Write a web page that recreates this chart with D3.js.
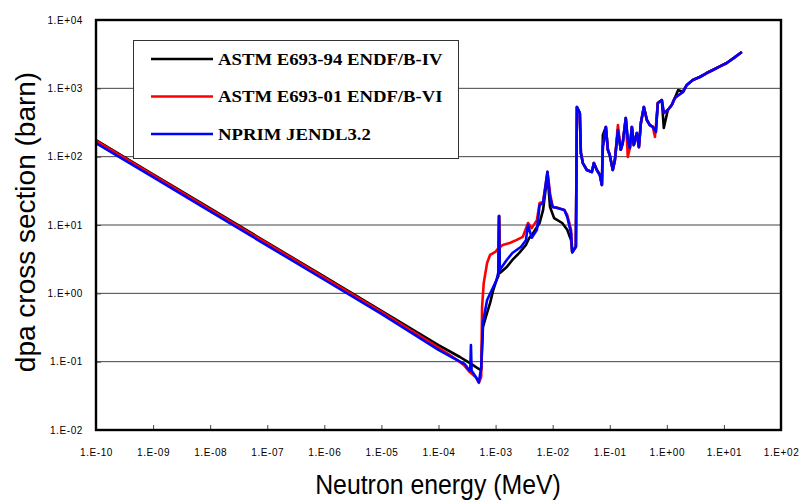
<!DOCTYPE html>
<html>
<head>
<meta charset="utf-8">
<script src="https://cdn.jsdelivr.net/npm/d3@7"></script>
<style>
  html, body { margin: 0; padding: 0; background: #fff; }
  svg { display: block; }
</style>
</head>
<body>
<svg id="chart" width="801" height="501"></svg>
<script>
// Decade ticks on both axes (exponents)
const xTickExponents = [-10, -9, -8, -7, -6, -5, -4, -3, -2, -1, 0, 1, 2];
const yTickExponents = [-2, -1, 0, 1, 2, 3, 4];

// Series names and colours
const seriesNames = ["ASTM E693-94 ENDF/B-IV", "ASTM E693-01 ENDF/B-VI", "NPRIM JENDL3.2"];
const seriesColors = ["#000000", "#ff0000", "#0000ff"];

// ASTM E693-94 (ENDF/B-IV): neutron energy (MeV) and dpa cross section (barn)
const energyAstm94 = [1e-10, 1e-9, 1e-8, 1e-7, 1e-6, 1e-5, 1e-4, 2.37e-4, 3.5e-4, 5.1e-4, 5.6e-4,
  6.0e-4, 7.1e-4, 8.0e-4, 9.1e-4, 1.04e-3, 1.12e-3, 1.15e-3, 1.19e-3, 1.57e-3, 1.97e-3, 2.6e-3,
  3.4e-3, 3.9e-3, 4.3e-3, 5.9e-3, 6.8e-3, 8.1e-3, 9.0e-3, 1.06e-2, 1.47e-2, 1.8e-2, 2.1e-2, 2.2e-2,
  2.55e-2, 2.66e-2, 2.99e-2, 3.12e-2, 3.38e-2, 3.97e-2, 4.86e-2, 5.27e-2, 5.94e-2, 6.71e-2, 7.28e-2,
  7.57e-2, 8.55e-2, 9.27e-2, 0.1, 0.113, 0.123, 0.139, 0.156, 0.169, 0.191, 0.207, 0.225, 0.244,
  0.264, 0.298, 0.324, 0.351, 0.396, 0.447, 0.504, 0.569, 0.642, 0.695, 0.817, 0.885, 1.04, 1.22,
  1.38, 1.58, 1.91, 2.24, 2.85, 3.78, 5.0, 6.4, 8.5, 11.2, 15, 20.6];
const sigmaAstm94 = [175, 55.3, 17.5, 5.53, 1.75, 0.553, 0.175, 0.117, 0.096, 0.078, 0.076,
  0.32, 0.52, 0.72, 1.12, 1.57, 1.8, 13.5, 1.98, 2.43, 3.08, 3.9,
  5.1, 6.5, 7.1, 10.7, 16.6, 54, 18.3, 12.6, 10.7, 8.5, 6.0, 4.0,
  4.8, 533, 435, 113, 80.7, 63.8, 59.7, 80.7, 63.8, 54, 38.5,
  207, 272, 126, 106, 63.8, 89, 245, 126, 159, 368, 175, 134, 272,
  148, 222, 138, 311, 533, 344, 290, 272, 230, 610, 674, 263, 482, 570,
  721, 945, 884, 1120, 1325, 1465, 1675, 1855, 2090, 2350, 2790, 3400];

// ASTM E693-01 (ENDF/B-VI)
const energyAstm01 = [1e-10, 1e-9, 1e-8, 1e-7, 1e-6, 1e-5, 1e-4, 1.79e-4, 2.8e-4, 3.5e-4, 4.6e-4,
  5.1e-4, 5.6e-4, 5.8e-4, 6.2e-4, 7.1e-4, 8.0e-4, 9.9e-4, 1.12e-3, 1.15e-3, 1.18e-3, 1.33e-3,
  1.77e-3, 2.3e-3, 3.0e-3, 3.7e-3, 4.3e-3, 5.3e-3, 5.9e-3, 6.8e-3, 8.1e-3, 9.0e-3, 1.0e-2, 1.24e-2,
  1.6e-2, 1.8e-2, 2.1e-2, 2.2e-2, 2.55e-2, 2.66e-2, 2.99e-2, 3.12e-2, 3.38e-2, 3.97e-2, 4.86e-2,
  5.27e-2, 5.94e-2, 6.71e-2, 7.28e-2, 7.57e-2, 8.55e-2, 9.27e-2, 0.1, 0.113, 0.123, 0.139, 0.156,
  0.169, 0.191, 0.207, 0.225, 0.244, 0.264, 0.298, 0.324, 0.351, 0.396, 0.447, 0.504, 0.569, 0.62,
  0.695, 0.817, 0.885, 1.04, 1.22, 1.38, 1.62, 1.91, 2.24, 2.85, 3.78, 5.0, 6.4, 8.5, 11.2, 15, 20.6];
const sigmaAstm01 = [170, 53.7, 17.0, 5.37, 1.70, 0.537, 0.160, 0.117, 0.089, 0.071, 0.058,
  0.049, 0.060, 0.63, 1.42, 2.78, 3.64, 4.03, 4.6, 13.5, 4.7, 5.1,
  5.45, 6.0, 6.7, 10.7, 9.0, 11.8, 21, 21.7, 60, 29, 18.3, 17.8,
  16.6, 14, 8.5, 4.0, 4.8, 533, 435, 113, 80.7, 63.8, 59.7,
  80.7, 63.8, 54, 38.5, 138, 272, 126, 106, 63.8, 89, 290, 126,
  159, 368, 99, 134, 272, 148, 222, 138, 311, 533, 344, 290, 272, 194,
  610, 674, 435, 482, 570, 721, 798, 884, 1120, 1325, 1465, 1675, 1855, 2090, 2350, 2790, 3400];

// NPRIM (JENDL-3.2)
const energyNprim = [1e-10, 1e-9, 1e-8, 1e-7, 1e-6, 1e-5, 1e-4, 1.79e-4, 2.9e-4, 3.4e-4, 3.6e-4,
  3.7e-4, 3.8e-4, 4.6e-4, 5.1e-4, 5.6e-4, 6.0e-4, 7.1e-4, 8.6e-4, 1.04e-3, 1.12e-3, 1.15e-3,
  1.18e-3, 1.57e-3, 1.97e-3, 2.8e-3, 3.4e-3, 3.7e-3, 4.3e-3, 5.3e-3, 5.9e-3, 6.8e-3, 8.1e-3,
  9.0e-3, 1.0e-2, 1.2e-2, 1.6e-2, 1.8e-2, 2.1e-2, 2.2e-2, 2.55e-2, 2.66e-2, 2.99e-2, 3.12e-2,
  3.38e-2, 3.97e-2, 4.86e-2, 5.27e-2, 5.94e-2, 6.71e-2, 7.28e-2, 7.57e-2, 8.55e-2, 9.27e-2, 0.1,
  0.113, 0.123, 0.139, 0.156, 0.169, 0.191, 0.207, 0.225, 0.244, 0.264, 0.298, 0.324, 0.351, 0.396,
  0.447, 0.504, 0.569, 0.642, 0.695, 0.817, 0.885, 1.04, 1.22, 1.38, 1.62, 1.91, 2.24, 2.85, 3.78,
  5.0, 6.4, 8.5, 11.2, 15, 20.6];
const sigmaNprim = [158, 50, 15.8, 5.0, 1.58, 0.5, 0.149, 0.114, 0.092, 0.076, 0.074,
  0.175, 0.074, 0.058, 0.050, 0.083, 0.37, 0.80, 1.12, 1.57, 2.05, 13.5,
  2.2, 3.08, 3.9, 4.8, 6.0, 10, 6.5, 8.5, 19.6, 21, 60,
  25.7, 18.3, 17.8, 16.6, 13.1, 7.6, 4.0, 4.8, 533, 435, 113,
  80.7, 63.8, 59.7, 80.7, 63.8, 54, 38.5, 138, 272, 126, 106,
  63.8, 89, 245, 126, 159, 368, 175, 134, 272, 148, 222, 138, 311, 533,
  344, 290, 272, 230, 610, 674, 435, 482, 570, 721, 798, 884, 1120, 1325, 1465,
  1675, 1855, 2090, 2350, 2790, 3400];

const series = [
  { name: seriesNames[0], color: seriesColors[0], e: energyAstm94, s: sigmaAstm94 },
  { name: seriesNames[1], color: seriesColors[1], e: energyAstm01, s: sigmaAstm01 },
  { name: seriesNames[2], color: seriesColors[2], e: energyNprim, s: sigmaNprim }
];

const SANS = "'Liberation Sans', Arial, sans-serif";
const SERIF = "'Liberation Serif', 'Times New Roman', serif";

const svg = d3.select("#chart");
const plot = { left: 96, right: 781, top: 20, bottom: 430 };

const x = d3.scaleLog().domain([1e-10, 1e2]).range([plot.left, plot.right]);
const y = d3.scaleLog().domain([1e-2, 1e4]).range([plot.bottom, plot.top]);

const expLabel = e => "1.E" + (e < 0 ? "-" : "+") + String(Math.abs(e)).padStart(2, "0");

// Horizontal gridlines at each decade
svg.append("g").selectAll("line")
  .data(yTickExponents.slice(1, -1))
  .join("line")
  .attr("x1", plot.left).attr("x2", plot.right)
  .attr("y1", d => y(Math.pow(10, d))).attr("y2", d => y(Math.pow(10, d)))
  .attr("stroke", "#444").attr("stroke-width", 1);

// Data curves
const line = d3.line()
  .x(d => x(d[0]))
  .y(d => y(d[1]));

svg.append("g").selectAll("path")
  .data(series)
  .join("path")
  .attr("d", d => line(d.e.map((v, i) => [v, d.s[i]])))
  .attr("fill", "none")
  .attr("stroke", d => d.color)
  .attr("stroke-width", 2.6)
  .attr("stroke-linejoin", "round");

// X axis: inward tick marks and labels
const xAxis = d3.axisBottom(x)
  .tickValues(xTickExponents.map(e => Math.pow(10, e)))
  .tickFormat((d, i) => expLabel(xTickExponents[i]))
  .tickSizeInner(-5).tickSizeOuter(0).tickPadding(19);
const gx = svg.append("g").attr("transform", `translate(0,${plot.bottom})`).call(xAxis);
gx.select(".domain").remove();
gx.selectAll(".tick line").attr("stroke", "#444");
gx.selectAll(".tick text")
  .attr("fill", "#000").attr("letter-spacing", 0.6)
  .style("font-family", SANS).style("font-size", "10px");

// Y axis labels
const yAxis = d3.axisLeft(y)
  .tickValues(yTickExponents.map(e => Math.pow(10, e)))
  .tickFormat((d, i) => expLabel(yTickExponents[i]))
  .tickSizeInner(-5).tickSizeOuter(0).tickPadding(13);
const gy = svg.append("g").attr("transform", `translate(${plot.left},0)`).call(yAxis);
gy.select(".domain").remove();
gy.selectAll(".tick line").attr("stroke", "#444");
gy.selectAll(".tick text")
  .attr("fill", "#000").attr("letter-spacing", 0.6)
  .style("font-family", SANS).style("font-size", "10px");

// Plot frame
svg.append("rect")
  .attr("x", plot.left).attr("y", plot.top)
  .attr("width", plot.right - plot.left).attr("height", plot.bottom - plot.top)
  .attr("fill", "none").attr("stroke", "#000").attr("stroke-width", 2.4);

// Axis titles
svg.append("text")
  .attr("transform", "translate(438,494) scale(0.92,1)")
  .attr("text-anchor", "middle")
  .style("font-family", SANS).style("font-size", "27px")
  .text("Neutron energy (MeV)");

svg.append("text")
  .attr("transform", "translate(35,222) rotate(-90)")
  .attr("text-anchor", "middle")
  .style("font-family", SANS).style("font-size", "28px")
  .text("dpa cross section (barn)");

// Legend
const legend = svg.append("g");
legend.append("rect")
  .attr("x", 133.5).attr("y", 40.5).attr("width", 325).attr("height", 118)
  .attr("fill", "#fff").attr("stroke", "#333").attr("stroke-width", 1);
const rows = legend.selectAll("g.row")
  .data(series)
  .join("g").attr("class", "row")
  .attr("transform", (d, i) => `translate(0,${59 + i * 37.5})`);
rows.append("line")
  .attr("x1", 151).attr("x2", 213).attr("y1", 0).attr("y2", 0)
  .attr("stroke", d => d.color).attr("stroke-width", 2.6);
rows.append("text")
  .attr("transform", "translate(218,5.5) scale(1.17,1)")
  .attr("fill", "#000")
  .style("font-family", SERIF).style("font-weight", "bold").style("font-size", "16px")
  .text(d => d.name);
</script>
</body>
</html>
